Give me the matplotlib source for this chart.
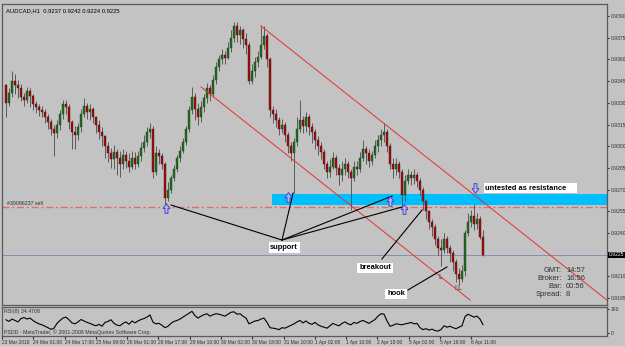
import matplotlib
matplotlib.use("Agg")
import matplotlib.pyplot as plt
import matplotlib.transforms as mtransforms
from matplotlib.path import Path

plt.rcParams["font.family"] = ["Liberation Sans", "DejaVu Sans"]

# AUDCAD H1 candles, prices in pips above 0.9200
BASE = 0.9200
PIP = 0.0001
first_open = 142
closes = [130, 137, 145, 142, 140, 134, 132, 138, 135, 129, 127, 125, 124, 120, 117,
          112, 109, 115, 122, 129, 127, 117, 110, 108, 113, 122, 128, 124, 126, 120,
          115, 110, 107, 100, 95, 91, 96, 92, 88, 94, 90,
          86, 92, 88, 93, 99, 103, 110, 112, 82, 95, 93, 88, 64, 70,
          78, 84, 92, 97, 103, 112, 125, 134, 126, 120, 127, 133, 140, 136, 146,
          155, 160, 163, 161, 168, 175, 183, 177, 180, 174, 170, 145, 152, 158, 162,
          170, 176, 160, 125, 122, 118, 112, 115, 108, 100, 95, 103,
          112, 118, 114, 120, 113, 110, 104, 100, 96, 88, 82, 86, 92, 85, 80, 84, 88, 82,
          78, 86, 84, 92, 98, 95, 90, 94, 100, 104, 108, 110, 100, 88, 84, 88, 82,
          66, 76, 80, 78, 80, 76, 70, 62, 55, 48, 44, 36, 30, 28,
          36, 30, 26, 20, 12, 8, 14, 40, 48, 52, 46, 50, 37, 25]
highs = [143, 140, 152, 150, 146, 143, 137, 141, 140, 136, 131, 129, 128, 126, 122,
         119, 115, 118, 125, 132, 132, 129, 118, 114, 116, 126, 133, 130, 129, 127,
         121, 118, 113, 108, 103, 99, 101, 98, 97, 98, 97,
         95, 97, 96, 97, 103, 108, 113, 116, 114, 100, 98, 95, 89, 75,
         80, 87, 94, 100, 106, 114, 128, 141, 137, 130, 131, 136, 144, 142, 149,
         158, 163, 167, 166, 172, 180, 186, 186, 183, 182, 178, 172, 157, 162, 166,
         184, 183, 178, 162, 128, 126, 120, 119, 117, 110, 103, 106,
         120, 132, 121, 124, 122, 116, 112, 107, 103, 98, 90, 91, 96, 94, 88, 90, 92, 90,
         84, 90, 90, 96, 104, 100, 98, 97, 104, 108, 112, 116, 112, 102, 92, 92, 90,
         84, 80, 84, 83, 84, 82, 78, 72, 63, 56, 50, 46, 38, 36,
         40, 38, 32, 28, 22, 16, 18, 42, 54, 56, 60, 54, 52, 42]
lows = [120, 128, 134, 136, 133, 131, 128, 130, 127, 125, 123, 121, 120, 116, 112,
        108, 93, 106, 111, 119, 122, 112, 98, 98, 104, 110, 120, 119, 118, 116,
        109, 105, 100, 92, 89, 85, 84, 80, 79, 84, 85,
        82, 84, 84, 86, 90, 96, 100, 106, 78, 80, 88, 84, 59, 62,
        68, 76, 82, 89, 95, 101, 110, 122, 118, 115, 117, 124, 130, 131, 134,
        143, 152, 157, 157, 160, 165, 172, 172, 171, 168, 164, 143, 143, 148, 155,
        160, 167, 155, 120, 116, 113, 108, 109, 103, 95, 90, 68,
        100, 110, 109, 110, 108, 102, 98, 94, 91, 84, 78, 79, 84, 80, 73, 76, 80, 78,
        56, 76, 80, 82, 90, 88, 86, 87, 92, 96, 100, 103, 96, 84, 78, 80, 78,
        58, 62, 74, 73, 74, 72, 66, 56, 50, 43, 38, 32, 25, 17,
        26, 26, 20, 14, 6, 4, 6, 10, 38, 44, 42, 43, 36, 24]

# RSI(8) values, one per candle
rsi = [55, 48, 58, 52, 46, 60, 64, 58, 62, 52, 44, 38, 34, 28, 22,
       15, 20, 40, 52, 62, 66, 55, 42, 38, 46, 56, 50, 44, 40, 34,
       30, 36, 28, 44, 48, 55, 40, 33, 30, 40, 46,
       36, 50, 42, 50, 56, 60, 66, 75, 45, 38, 40, 32, 22, 28,
       40, 48, 52, 58, 66, 74, 82, 90, 72, 62, 70, 76, 80, 70, 76,
       80, 78, 74, 70, 78, 86, 88, 78, 80, 70, 62, 38, 44, 50, 52,
       58, 62, 44, 22, 20, 18, 14, 22, 20, 26, 32, 38,
       46, 52, 42, 50, 40, 36, 44, 34, 28, 24, 20, 30, 40, 34, 30, 40, 46, 38,
       34, 44, 40, 48, 52, 46, 40, 48, 56, 70, 80, 78, 50, 28, 32, 38, 36,
       34, 38, 40, 44, 38, 40, 22, 14, 18, 12, 16, 10, 8, 14,
       30, 24, 28, 22, 18, 24, 30, 68, 78, 72, 66, 70, 58, 34.47]

price_ticks = [0.9390, 0.9375, 0.9360, 0.9345, 0.9330, 0.9315, 0.9300, 0.9285,
               0.9270, 0.9255, 0.9240, 0.9225, 0.9210, 0.9195]
time_labels = ["23 Mar 2018", "24 Mar 01:00", "24 Mar 17:00", "25 Mar 09:00",
               "26 Mar 01:00", "26 Mar 17:00", "29 Mar 10:00", "30 Mar 02:00",
               "30 Mar 18:00", "31 Mar 10:00", "1 Apr 02:00", "1 Apr 10:00",
               "2 Apr 18:00", "5 Apr 02:00", "5 Apr 19:00", "6 Apr 11:00"]

last_price = 0.9225
sell_level = 0.9258
zone_low, zone_high = 0.92594, 0.92670

BG = "#c3c3c3"
FRAME = "#5a5a5a"
TXT = "#303030"
W, H = 625, 346


def fx(px):
    return px / W


def fy(py):
    return 1 - py / H


fig = plt.figure(figsize=(W / 100, H / 100), dpi=100, facecolor=BG)
ax = fig.add_axes([fx(2), fy(305), fx(605), (305 - 4) / H], facecolor=BG)
ax_r = fig.add_axes([fx(2), fy(336), fx(605), (336 - 307) / H], facecolor=BG)

n = len(closes)
idx = list(range(n))
opens = [first_open] + closes[:-1]
to_p = lambda v: BASE + v * PIP
o = [to_p(v) for v in opens]
c = [to_p(v) for v in closes]
hi = [to_p(v) for v in highs]
lo = [to_p(v) for v in lows]

# candles
ax.vlines(idx, lo, hi, color="#4a4a4a", lw=0.6, zorder=3)
bull = [i for i in idx if c[i] >= o[i]]
bear = [i for i in idx if c[i] < o[i]]
ax.bar(bull, [c[i] - o[i] for i in bull], bottom=[o[i] for i in bull],
       width=0.6, color="#1f6b1f", edgecolor="#1f3f1f", lw=0.3, zorder=4)
ax.bar(bear, [o[i] - c[i] for i in bear], bottom=[c[i] for i in bear],
       width=0.6, color="#a00d0d", edgecolor="#4a1010", lw=0.3, zorder=4)

ax.set_xlim(-1.33, 200.33)
ax.set_ylim(0.91903, 0.93983)

# support/resistance zone and levels
ax.fill_between([88.7, 201], zone_low, zone_high, color="#00bfff", lw=0, zorder=2)
ax.axhline(sell_level, color="#e86a6a", lw=1.0, ls=(0, (5, 2, 1.5, 2)), zorder=2.5)
ax.axhline(last_price, color="#8c8cb0", lw=0.7, zorder=1)
ax.text(0.3, sell_level + 0.0001, "#30096237 sell", fontsize=3.8, color=TXT,
        va="bottom", ha="left")

# channel lines
ax.plot([85, 200.3], [0.93831, 0.91937], color="#e83030", lw=0.7, zorder=5)
ax.plot([65, 154.7], [0.93410, 0.91937], color="#e83030", lw=0.7, zorder=5)

# annotation lines
black = dict(color="black", lw=0.8, zorder=6)
for x2, y2 in [(55, 0.92594), (95.7, 0.92677), (128.7, 0.92656), (132, 0.92580)]:
    ax.plot([92, x2], [0.92352, y2], **black)
ax.plot([125.3, 138.7], [0.92221, 0.92560], **black)
ax.plot([134, 147], [0.92007, 0.92166], **black)

box = dict(facecolor="white", edgecolor="none", pad=1.2)
ax.text(92.7, 0.92300, "support", fontsize=5.4, weight="bold", ha="center",
        va="center", bbox=box, zorder=7)
ax.text(123, 0.92159, "breakout", fontsize=5.4, weight="bold", ha="center",
        va="center", bbox=box, zorder=7)
ax.text(130, 0.91980, "hook", fontsize=5.4, weight="bold", ha="center",
        va="center", bbox=box, zorder=7)
ax.text(159.8, 0.92711, "untested as resistance    ", fontsize=5.4,
        weight="bold", ha="left", va="center", bbox=box, zorder=7)
ax.text(144.7, 0.9209, "L", fontsize=5, color=TXT, ha="center", va="center")
ax.text(150.7, 0.9202, "LL", fontsize=5, color=TXT, ha="center", va="center")

# hollow arrow markers
up_arrow = Path([(-0.35, 0), (0, 0.5), (0.35, 0), (0.15, 0), (0.15, -0.5),
                 (-0.15, -0.5), (-0.15, 0), (-0.35, 0)], closed=True)
down_arrow = Path([(x, -y) for x, y in up_arrow.vertices], closed=True)
arrow_kw = dict(ms=7, mfc="#b8b8e8", mec="#4646c8", mew=0.7, ls="none", zorder=8)
ax.plot([53.3, 94, 128, 132.7], [0.92573, 0.9265, 0.92622, 0.92566],
        marker=up_arrow, **arrow_kw)
ax.plot([156.3], [0.9271], marker=down_arrow, **arrow_kw)

# price axis
ax.yaxis.tick_right()
ax.set_yticks(price_ticks)
ax.set_yticklabels(["" if abs(p - last_price) < 1e-6 else f"{p:.4f}" for p in price_ticks])
ax.tick_params(axis="y", length=1.5, pad=1, labelsize=3.6, colors=TXT)
ax.set_xticks([])
trans = mtransforms.blended_transform_factory(ax.transAxes, ax.transData)
ax.text(1.0035, last_price, f"{last_price:.4f}", transform=trans, fontsize=3.6,
        color="white", va="center", ha="left",
        bbox=dict(facecolor="black", edgecolor="none", pad=0.5))

# header and info
ax.text(0.006, 0.985, "AUDCAD,H1  0.9237 0.9242 0.9224 0.9225", transform=ax.transAxes,
        fontsize=4.2, color="black", va="top", ha="left")
for k, (lab, val) in enumerate([("GMT:", "14:57"), ("Broker:", "16:56"),
                                 ("Bar:", "00:56"), ("Spread:", "8")]):
    fig.text(fx(562), fy(271 + 7.8 * k), lab, fontsize=5.4, color=TXT, ha="right", va="center")
    fig.text(fx(566), fy(271 + 7.8 * k), val, fontsize=5.4, color=TXT, ha="left", va="center")

# RSI panel
ax_r.plot(idx, rsi, color="black", lw=0.8)
ax_r.set_xlim(ax.get_xlim())
ax_r.set_ylim(-12.5, 108)
ax_r.yaxis.tick_right()
ax_r.set_yticks([0, 100])
ax_r.set_yticklabels(["0", "100"])
ax_r.tick_params(axis="y", length=1.5, pad=1, labelsize=3.6, colors=TXT)
ax_r.text(0.004, 0.93, "RSI(8) 34.4708", transform=ax_r.transAxes, fontsize=3.8,
          color=TXT, va="top", ha="left")
ax_r.text(0.004, 0.02, "PSDD - MetaTrader, \u00a9 2001-2008 MetaQuotes Software Corp.",
          transform=ax_r.transAxes, fontsize=3.8, color=TXT, va="bottom", ha="left")

tick_pos = [-1.33 + 10.43 * i for i in range(len(time_labels))]
ax_r.set_xticks(tick_pos)
ax_r.set_xticklabels(time_labels, ha="left")
ax_r.tick_params(axis="x", length=2, pad=1, labelsize=3.5, colors=TXT)

for a in (ax, ax_r):
    for s in a.spines.values():
        s.set_color(FRAME)
        s.set_linewidth(0.9)

fig.savefig("out.png", dpi=100, facecolor=BG)
